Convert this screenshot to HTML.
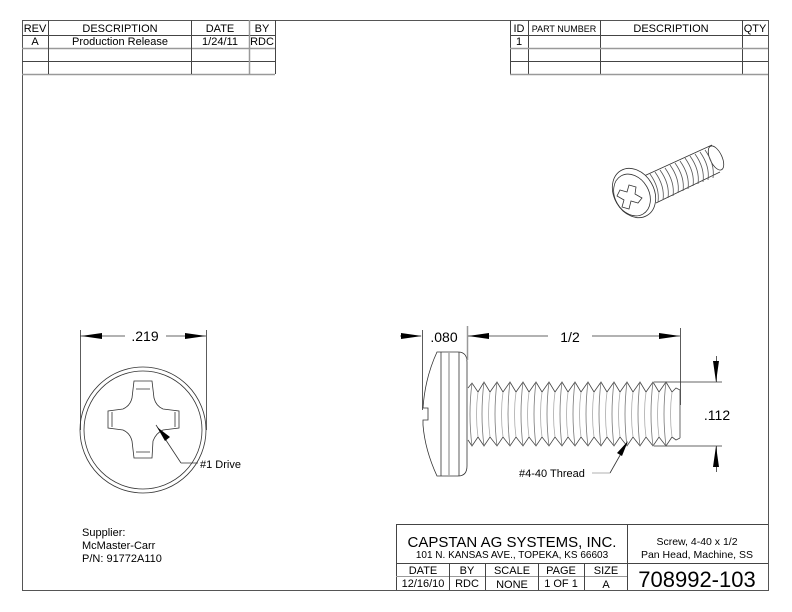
<!DOCTYPE html>
<html><head><style>
body{margin:0;background:#fff;}
svg{display:block;font-family:"Liberation Sans",Arial,sans-serif;}
</style></head><body>
<svg width="792" height="612" viewBox="0 0 792 612" xmlns="http://www.w3.org/2000/svg">
<g fill="none" stroke="#555" stroke-width="1">
<rect x="22.5" y="20.5" width="746" height="570"/>
</g>
<g stroke="#444" stroke-width="1" fill="none">
<line x1="22" y1="35.5" x2="275" y2="35.5"/>
<line x1="22" y1="48.5" x2="275" y2="48.5" stroke="#999" stroke-width="1.5"/>
<line x1="22" y1="61.5" x2="275" y2="61.5"/>
<line x1="22" y1="74.5" x2="275" y2="74.5" stroke="#999" stroke-width="1.5"/>
<line x1="48.5" y1="20" x2="48.5" y2="74"/>
<line x1="191.5" y1="20" x2="191.5" y2="74"/>
<line x1="249.5" y1="20" x2="249.5" y2="74" stroke="#999" stroke-width="1.5"/>
<line x1="275.5" y1="20" x2="275.5" y2="74"/>
<line x1="510.5" y1="20" x2="510.5" y2="74"/>
<line x1="528.5" y1="20" x2="528.5" y2="74"/>
<line x1="600.5" y1="20" x2="600.5" y2="74"/>
<line x1="742.5" y1="20" x2="742.5" y2="74"/>
<line x1="510" y1="35.5" x2="768" y2="35.5"/>
<line x1="510" y1="48.5" x2="768" y2="48.5" stroke="#999" stroke-width="1.5"/>
<line x1="510" y1="61.5" x2="768" y2="61.5"/>
<line x1="510" y1="74.5" x2="768" y2="74.5" stroke="#999" stroke-width="1.5"/>
<line x1="396.5" y1="524" x2="396.5" y2="590"/>
<line x1="396" y1="524.5" x2="768" y2="524.5"/>
<line x1="627.5" y1="524" x2="627.5" y2="590"/>
<line x1="396" y1="563.5" x2="768" y2="563.5"/>
<line x1="396" y1="576.5" x2="627" y2="576.5" stroke="#999"/>
<line x1="449.5" y1="563" x2="449.5" y2="590"/>
<line x1="485.5" y1="563" x2="485.5" y2="590"/>
<line x1="538.5" y1="563" x2="538.5" y2="590"/>
<line x1="584.5" y1="563" x2="584.5" y2="590"/>
</g>
<g font-size="11" fill="#000" text-anchor="middle">
<text x="35" y="32">REV</text><text x="120" y="32">DESCRIPTION</text><text x="220" y="32">DATE</text><text x="262" y="32">BY</text>
<text x="35" y="45">A</text><text x="120" y="45">Production Release</text><text x="220" y="45">1/24/11</text><text x="262" y="45">RDC</text>
<text x="519" y="32">ID</text><text x="564" y="32" font-size="9">PART NUMBER</text><text x="671" y="32">DESCRIPTION</text><text x="755" y="32">QTY</text>
<text x="519" y="45">1</text>
<text x="512" y="547" font-size="15">CAPSTAN AG SYSTEMS, INC.</text>
<text x="512" y="558" font-size="10">101 N. KANSAS AVE., TOPEKA, KS 66603</text>
<text x="697" y="545" font-size="10.5">Screw, 4-40 x 1/2</text>
<text x="697" y="558" font-size="10.5">Pan Head, Machine, SS</text>
<text x="423" y="574">DATE</text><text x="467" y="574">BY</text><text x="512" y="574">SCALE</text><text x="561" y="574">PAGE</text><text x="606" y="574">SIZE</text>
<text x="423" y="587">12/16/10</text><text x="467" y="587">RDC</text><text x="512" y="588">NONE</text><text x="561" y="587">1 OF 1</text><text x="606" y="588">A</text>
<text x="697" y="587" font-size="22">708992-103</text>
</g>
<g font-size="11" fill="#000">
<text x="82" y="536">Supplier:</text>
<text x="82" y="549">McMaster-Carr</text>
<text x="82" y="562">P/N: 91772A110</text>
</g>
<g stroke="#333" fill="none" stroke-width="0.8">
<circle cx="143" cy="430" r="63"/>
<circle cx="143" cy="430" r="59"/>
<path d="M134 381 L152 381 L154 398 Q156 406 163 409 L179 411 L179 428 L163 430 Q156 433 153 441 L152 458 L134 458 L132 441 Q130 433 123 430 L108 428 L108 411 L123 409 Q130 406 132 398 Z"/>
<path d="M136 389 L150 389 M112 412 L112 427 M175 412 L175 427 M136 452 L150 452"/>
<line x1="80.5" y1="330" x2="80.5" y2="430"/>
<line x1="206.5" y1="330" x2="206.5" y2="430"/>
<line x1="80" y1="336" x2="125" y2="336"/><line x1="166" y1="336" x2="206" y2="336"/>
<line x1="156" y1="425" x2="181" y2="463"/><line x1="181" y1="463" x2="198" y2="463"/>
</g>
<g fill="#000">
<polygon points="81,336 102,333 102,339"/><polygon points="206,336 185,333 185,339"/>
<polygon points="157,427 170,437 165,441"/>
</g>
<text x="145" y="341" font-size="14" text-anchor="middle">.219</text>
<text x="200" y="468" font-size="11">#1 Drive</text>
<g stroke="#333" fill="none" stroke-width="0.8">
<path d="M458 352 Q467 352 467 362 L467 466 Q467 476 458 476 L437 476 Q425 450 423 425 L423 420 L428 420 L428 408 L423 408 Q425 378 437 352 Z"/>
<line x1="441" y1="352" x2="441" y2="476"/><line x1="459" y1="352" x2="459" y2="476"/>
<line x1="449" y1="352" x2="449" y2="476" stroke="#aaa" stroke-width="1.5"/>
<line x1="467.5" y1="326" x2="467.5" y2="360" stroke="#999" stroke-width="1.5"/>
<line x1="422.5" y1="330" x2="422.5" y2="410"/>
<line x1="680.5" y1="328" x2="680.5" y2="405"/>
<line x1="400" y1="336" x2="421" y2="336"/><line x1="468" y1="336" x2="548" y2="336"/><line x1="592" y1="336" x2="680" y2="336"/>
<line x1="654" y1="382" x2="722" y2="382"/><line x1="654" y1="446" x2="722" y2="446"/>
<line x1="716.5" y1="356" x2="716.5" y2="382"/><line x1="716.5" y1="446" x2="716.5" y2="472"/>
<line x1="627" y1="443" x2="610" y2="473"/><line x1="610" y1="473" x2="592" y2="473" stroke="#999"/>
</g>
<g stroke="#444" fill="none" stroke-width="0.8">
<path d="M468 388 L472 383 L478 392 L484 382 L490 392 L497 382 L503 392 L510 382 L516 392 L523 382 L529 392 L536 382 L542 392 L549 382 L555 392 L562 382 L568 392 L575 382 L581 392 L588 382 L594 392 L601 382 L607 392 L614 382 L620 392 L627 382 L633 392 L640 382 L646 392 L653 382 L659 392 L666 382 L672 392 L676 388 L680 390"/>
<path d="M468 440 L472 446 L478 437 L484 446 L490 437 L497 446 L503 437 L510 446 L516 437 L523 446 L529 437 L536 446 L542 437 L549 446 L555 437 L562 446 L568 437 L575 446 L581 437 L588 446 L594 437 L601 446 L607 437 L614 446 L620 437 L627 446 L633 437 L640 446 L646 437 L653 446 L659 437 L666 446 L672 437 L676 440 L680 438"/>
<path d="M680 390 L680 438"/>
<path d="M472 383 Q468 414 472 446 M484 382 Q480 414 484 446 M497 382 Q493 414 497 446 M510 382 Q506 414 510 446 M523 382 Q519 414 523 446 M536 382 Q532 414 536 446 M549 382 Q545 414 549 446 M562 382 Q558 414 562 446 M575 382 Q571 414 575 446 M588 382 Q584 414 588 446 M601 382 Q597 414 601 446 M614 382 Q610 414 614 446 M627 382 Q623 414 627 446 M640 382 Q636 414 640 446 M653 382 Q649 414 653 446 M666 382 Q662 414 666 446" stroke="#777"/>
<path d="M478 392 Q475 414 478 437 M490 392 Q487 414 490 437 M503 392 Q500 414 503 437 M516 392 Q513 414 516 437 M529 392 Q526 414 529 437 M542 392 Q539 414 542 437 M555 392 Q552 414 555 437 M568 392 Q565 414 568 437 M581 392 Q578 414 581 437 M594 392 Q591 414 594 437 M607 392 Q604 414 607 437 M620 392 Q617 414 620 437 M633 392 Q630 414 633 437 M646 392 Q643 414 646 437 M659 392 Q656 414 659 437 M672 392 Q669 414 672 437" stroke="#aaa"/>
</g>
<g fill="#000">
<polygon points="422,336 401,333 401,339"/><polygon points="468,336 489,333 489,339"/>
<polygon points="680,336 659,333 659,339"/>
<polygon points="716,382 713,361 719,361"/><polygon points="716,446 713,467 719,467"/>
<polygon points="628,441 622,456 617,453"/>
</g>
<text x="444" y="342" font-size="14" text-anchor="middle">.080</text>
<text x="570" y="342" font-size="14" text-anchor="middle">1/2</text>
<text x="717" y="420" font-size="14" text-anchor="middle">.112</text>
<text x="519" y="477" font-size="11">#4-40 Thread</text>
<!-- iso view -->
<g stroke="#333" fill="none" stroke-width="0.8">
<path d="M644 176 L712 145 M656 203 L720 172"/>
<ellipse cx="716" cy="158" rx="6" ry="13" transform="rotate(-25 716 158)"/>
<g stroke="#555">
<path d="M650 174 Q660 188 658 202 M655 172 Q665 186 663 200 M660 170 Q670 184 668 198 M665 168 Q675 182 673 196 M670 165 Q680 179 678 193 M675 163 Q685 177 683 191 M680 161 Q690 175 688 189 M685 158 Q695 172 693 186 M690 156 Q700 170 698 184 M695 154 Q705 168 703 182 M700 152 Q710 166 708 180 M705 150 Q715 164 713 178"/>
</g>
<ellipse cx="634" cy="193" rx="20" ry="26" transform="rotate(-30 634 193)" fill="#fff"/>
<ellipse cx="632" cy="195" rx="17" ry="22" transform="rotate(-30 632 195)"/>
<path d="M620 190 L627 192 L629 185 L636 187 L635 194 L642 198 L638 203 L631 201 L629 209 L622 207 L624 200 L617 196 Z"/>
</g>
</svg>
</body></html>
